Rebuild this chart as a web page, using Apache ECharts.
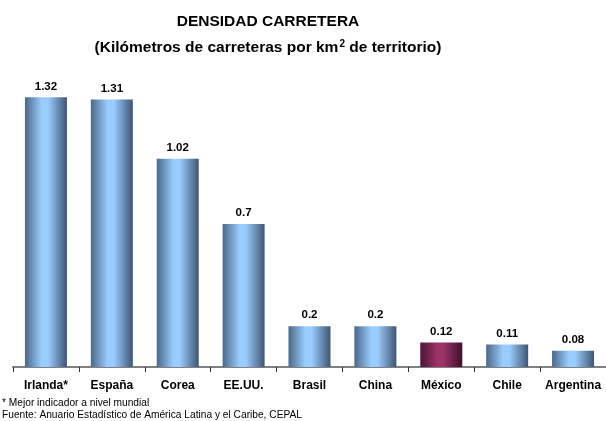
<!DOCTYPE html>
<html>
<head>
<meta charset="utf-8">
<script src="https://cdn.jsdelivr.net/npm/echarts@6/dist/echarts.min.js"></script>
<style>
  html, body { margin: 0; padding: 0; background: #fff; }
  #chart { width: 606px; height: 421px; }
</style>
</head>
<body>
<div id="chart"></div>
<script>
const paises = ["Irlanda*", "España", "Corea", "EE.UU.", "Brasil", "China", "México", "Chile", "Argentina"];
const densidad = [1.32, 1.31, 1.02, 0.7, 0.2, 0.2, 0.12, 0.11, 0.08];
const etiquetas = ["1.32", "1.31", "1.02", "0.7", "0.2", "0.2", "0.12", "0.11", "0.08"];
const resaltado = "México";

const font = "Liberation Sans, Arial, sans-serif";

function cilindro(a, b, c) {
  return {
    type: "linear", x: 0, y: 0, x2: 1, y2: 0,
    colorStops: [
      { offset: 0, color: a },
      { offset: 0.4, color: b },
      { offset: 0.55, color: b },
      { offset: 1, color: c }
    ]
  };
}
const azul = cilindro("#4b6888", "#99ccff", "#3f5572");
const vino = cilindro("#4a1535", "#9c3366", "#3f102c");

let myChart = echarts.init(document.getElementById("chart"));
let option = {
  animation: false,
  graphic: [
    {
      type: "text", x: 268, y: 22,
      style: { text: "DENSIDAD CARRETERA", font: "bold 15.5px " + font, fill: "#000", align: "center", verticalAlign: "middle" }
    },
    {
      type: "text", x: 268, y: 48,
      style: {
        text: "(Kilómetros de carreteras por km{s|2} de territorio)",
        align: "center", verticalAlign: "middle",
        font: "bold 15.5px " + font, fill: "#000",
        rich: { s: { fontSize: 10, fontWeight: "bold", fontFamily: font, verticalAlign: "top", padding: [0, 0, 8, 1] } }
      }
    },
    {
      type: "text", x: 2, y: 403,
      style: { text: "* Mejor indicador a nivel mundial", font: "10.2px " + font, fill: "#000", verticalAlign: "middle" }
    },
    {
      type: "text", x: 2, y: 415,
      style: { text: "Fuente: Anuario Estadístico de América Latina y el Caribe, CEPAL", font: "10.2px " + font, fill: "#000", verticalAlign: "middle" }
    }
  ],
  grid: { left: 13, right: 0, top: 81, bottom: 54 },
  xAxis: {
    type: "category",
    data: paises,
    axisLine: { lineStyle: { color: "#808080", width: 2 } },
    axisTick: { show: true, length: 5, interval: 0, lineStyle: { color: "#333" } },
    axisLabel: { interval: 0, color: "#000", fontWeight: "bold", fontSize: 12, fontFamily: font, margin: 13 }
  },
  yAxis: {
    type: "value",
    min: 0, max: 1.4,
    show: false,
    splitLine: { show: false }
  },
  series: [
    {
      type: "bar",
      barWidth: 42,
      data: densidad.map((v, i) => ({
        value: v,
        itemStyle: { color: paises[i] === resaltado ? vino : azul }
      })),
      label: {
        show: true,
        position: "top",
        distance: 5,
        color: "#000",
        fontWeight: "bold",
        fontSize: 11.5,
        fontFamily: font,
        formatter: p => etiquetas[p.dataIndex]
      }
    }
  ]
};
myChart.setOption(option);
</script>
</body>
</html>
